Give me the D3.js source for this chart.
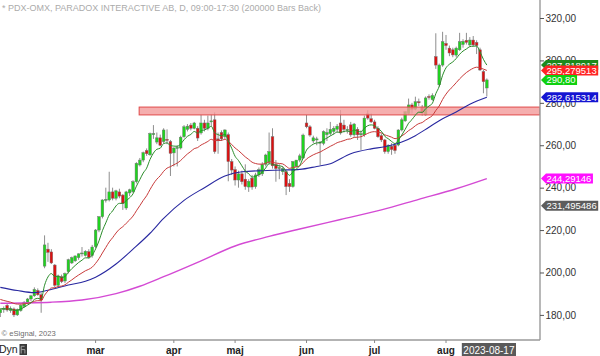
<!DOCTYPE html>
<html><head><meta charset="utf-8">
<script src="https://cdn.jsdelivr.net/npm/d3@7"></script>
<style>body{margin:0;background:#fff}svg{display:block}</style>
</head><body><svg id="c" width="600" height="356"></svg>
<script>
// ---------- DATA ----------
const title = "* PDX-OMX, PARADOX INTERACTIVE AB, D, 09:00-17:30 (200000 Bars Back)";
const holidays = ["2023-04-07","2023-04-10","2023-05-01","2023-05-18","2023-06-06","2023-06-23"];
const firstDay = [2023, 0, 20], lastDay = [2023, 7, 17];
const monthLabels = ["mar","apr","maj","jun","jul","aug"];
const monthNumbers = [3,4,5,6,7,8];
const priceTicks = [180,200,220,240,260,280,300,320];

const opens = [181,182.5,184.5,182,182.8,180,182,184,185.5,187.5,189,191.5,189.5,203,211,209.7,203.5,194,198,196,
200.4,204.5,205.5,207,209,208,209.8,208,212.2,220,226.3,234,234.2,238,235,238,236.5,230.4,237.5,238.1,
242.8,250.7,253,257.5,255.5,265,261.5,263.5,261.7,262.8,261.7,256.4,258.5,258.7,264,267.5,269.5,268,268,265.8,
270.5,268,271,272,263,266,264,265,252.3,248.5,243.6,246.5,244,240.3,244.5,240.5,246,246.5,251,252,
264,251,249,247.5,247.5,242,240.5,250,253,254,270.5,268.7,262,262.5,261,260.9,265,265.5,266.5,267.5,
270.5,269.5,267,269.6,264.9,267.5,264.9,264.9,274.8,272.5,271,268,264.5,262.5,257,259.5,260,260.1,267.2,271.5,
275,279,277,280.5,278,274.3,283,281.5,301.8,288.5,297.8,308,305.8,305,302.5,305,307.5,309.5,307.3,309.6,
308.5,305,294.7,287];
const highs = [183,184,185.5,184,183.5,183,185,186.5,188,189.5,193,192.5,190.5,217.5,214,211,204,199,199,200,
206.5,207.5,208,209,212,210.5,211,213,220.5,226.5,234.5,240,247.5,240,239,239.5,237,238.5,239.5,243.5,
252,254,257,258.5,266,269.5,266,265,268,267.5,262.5,259,260,264.5,269.5,270,270.5,271,269,274.3,
272,274,274.5,275.5,266,267,267.5,266,253.5,250,248,248,251,244,246,247,249.5,252,256,266,
268,253,251,250,248.5,244,252.5,253,256,265.5,274.3,269.5,264.5,264,262,267,268,271,269,270,
276.6,272,269,271,270.5,268.5,267,274,276.5,275,272,269,265.5,263,260.5,261,261,267.5,273,276,
282,280,282.9,282,279,283,284,284.5,312.8,298.5,313.5,312,307,306,306.5,313,310,313,311,311.5,
309.5,306,295.5,291.5];
const lows = [179,181,181.5,181,179,179.5,181.5,183.5,185,186.5,188.5,189,181,202,205,204,193,193,195,195,
199.5,204,205,206,207.5,207.5,206.5,207,211.5,219,225.5,233,233.5,234,234,235,229.5,229.5,236,237.5,
242,250,252,255,255,263,260.5,259.5,261,260.5,245.5,250,250,258,263.5,266.5,267,267.5,262,265,
266.5,267,269,256,256,262,263,243,246,241,240,241.5,239,238,239,239.5,245,245.5,250,251,
249,242.8,244,246,236.5,238,240,249.5,252,253.5,268,264,261,260,250.7,260,262,264.5,265,266,
265,266,265.5,264,264,262.5,257.8,264,272,270.5,267.5,263.5,261.5,256,256,255.5,256,259.5,266.5,271,
274.5,275,276.5,278.5,274,274,281.5,281,296,287.5,297,305,302,301.5,301.5,304.5,306,307.5,306.5,306.5,
303,295,284.5,283];
const closes = [182.5,183,182.3,183,180,182.5,184.5,186,187.5,189,192,189.5,187,213,209.5,204.5,194,198.4,195.7,199.5,
206,207,207.8,208.8,209.2,210,207.2,212,220,226.3,234.2,234.5,238,235,238.5,236,232.6,238,239,242.8,
251.5,253,256.5,256,265.5,265.5,263.5,260,267.2,262.3,256.2,258.7,259,263.8,268.7,269,268,270.5,263.4,270.5,
268,270.5,271.5,257,262.5,263,267.2,252.3,248.3,243.6,246.5,242.8,240.5,243,240.3,246,248.5,251,255.4,257,
250.3,249,249.5,249,240.5,240.5,252.3,253,255,264.8,268.7,264.8,263.5,263,261.5,266.4,266,267.5,268,269,
265.8,267.5,267.5,264.9,270,264.9,265.5,272.8,272.8,271,268,264,262.5,257,260,258,257.5,267.2,272,275.8,
279,277,280.5,280,275.2,282.3,282.5,283.5,297.8,297.8,308.8,307,303.5,302.6,305.8,308.8,309,308.5,309.6,307.3,
307,295.5,290,290.8];

// moving averages (one value per bar)
const maGreen = [182.9,182.9,182.8,182.8,182.1,182.2,182.8,183.6,184.6,185.7,
187.3,187.8,187.6,194.0,197.9,199.5,198.1,198.2,197.6,198.1,
200.1,201.8,203.3,204.7,205.8,206.9,206.9,208.2,211.1,214.9,
219.7,223.4,227.1,229.0,231.4,232.6,232.6,233.9,235.2,237.1,
240.7,243.8,246.9,249.2,253.3,256.3,258.1,258.6,260.8,261.1,
259.9,259.6,259.5,260.6,262.6,264.2,265.1,266.5,265.7,266.9,
267.2,268.0,268.9,265.9,265.0,264.5,265.2,262.0,258.6,254.8,
252.8,250.3,247.8,246.6,245.0,245.3,246.1,247.3,249.3,251.3,
251.0,250.5,250.3,249.9,247.6,245.8,247.4,248.8,250.4,254.0,
257.7,259.4,260.5,261.1,261.2,262.5,263.4,264.4,265.3,266.2,
266.1,266.5,266.7,266.3,267.2,266.6,266.3,268.0,269.2,269.6,
269.2,267.9,266.6,264.2,263.1,261.8,260.8,262.4,264.8,267.5,
270.4,272.1,274.2,275.6,275.5,277.2,278.5,279.8,284.3,287.7,
293.0,296.5,298.2,299.3,300.9,302.9,304.4,305.4,306.5,306.7,
306.8,304.0,300.5,297.8];
const maRed = [187.3,186.8,186.4,186.0,185.4,185.1,185.1,185.2,185.4,185.8,
186.4,186.7,186.7,189.3,191.3,192.7,192.8,193.4,193.6,194.2,
195.4,196.5,197.7,198.8,199.8,200.8,201.5,202.5,204.3,206.5,
209.2,211.8,214.4,216.4,218.6,220.4,221.6,223.2,224.8,226.6,
229.1,231.5,234.0,236.2,239.1,241.8,244.0,245.6,247.7,249.2,
249.9,250.8,251.6,252.8,254.4,255.9,257.1,258.4,258.9,260.1,
260.9,261.8,262.8,262.2,262.2,262.3,262.8,261.8,260.4,258.7,
257.5,256.0,254.5,253.3,252.0,251.4,251.1,251.1,251.5,252.1,
251.9,251.6,251.4,251.2,250.1,249.1,249.5,249.8,250.3,251.8,
253.5,254.6,255.5,256.2,256.8,257.7,258.6,259.5,260.3,261.2,
261.7,262.2,262.8,263.0,263.7,263.8,264.0,264.8,265.6,266.2,
266.4,266.1,265.8,264.9,264.4,263.8,263.1,263.5,264.4,265.5,
266.9,267.9,269.2,270.2,270.7,271.9,272.9,274.0,276.4,278.5,
281.6,284.1,286.1,287.7,289.5,291.3,292.9,294.3,295.4,296.3,
296.8,296.5,295.9,295.28];
// [bar index, value]
const maBlue = [[0,193],[5,191.5],[10,190.5],[14,191.6],[20,194.1],[25,195.9],[28,197.8],[34,204],[39,211],
[44,218.5],[48,225.5],[54,234],[60,240],[66,245.5],[71,247.5],[77,248],[83,248.3],[88,248.6],[93,250],
[97,251.3],[103,256],[109,258.3],[113,259.3],[118,261.5],[122,264.5],[126,268.5],[130,272.5],[134,275.7],
[138,279.3],[143,282.6]];
const maMagenta = [[0,185.5],[15,186],[24,187],[34,190],[41,193.5],[48,198],[59,205.5],[69,212.5],[79,217],
[88,220.5],[100,225],[112,229.5],[123,234.5],[134,239.5],[143,244.3]];

const zoneLow = 274.3, zoneHigh = 278, zoneStartBar = 40.8;

const labelValues = [297.818917, 295.279513, 290.80, 282.615314, 244.29146, 231.495486];
const labelTexts  = ["297,818917","295,279513","290,80","282,615314","244,29146","231,495486"];
const labelColors = ["#1c8a1c","#ff2424","#10d010","#1414d2","#ff10ff","#5c5c5c"];
const lastDateLabel = "2023-08-17";

// ---------- BUILD ----------
const dates = [];
for (let d = new Date(Date.UTC(...firstDay)); d <= new Date(Date.UTC(...lastDay)); d.setUTCDate(d.getUTCDate()+1)) {
  const dow = d.getUTCDay(), s = d.toISOString().slice(0,10);
  if (dow > 0 && dow < 6 && !holidays.includes(s)) dates.push(s);
}
const N = closes.length;
const bars = d3.range(N).map(i => ({i, date: dates[i], o: opens[i], h: highs[i], l: lows[i], c: closes[i]}));

const FONT = "'Liberation Sans', Arial, sans-serif";
const W = 600, H = 356, plotR = 540, plotB = 340;
const svg = d3.select("#c");

const x = d3.scaleLinear().domain([0, N-1]).range([0.34, 486.83]);
const y = d3.scaleLinear().domain([180, 320]).range([314.9, 18]);

svg.append("defs").append("clipPath").attr("id","clip")
  .append("rect").attr("x",0).attr("y",0).attr("width",plotR).attr("height",plotB);

const plot = svg.append("g").attr("clip-path","url(#clip)");

// candles
const cg = plot.append("g");
cg.selectAll("line.w").data(bars).join("line")
  .attr("x1", d => x(d.i)).attr("x2", d => x(d.i))
  .attr("y1", d => y(d.h)).attr("y2", d => y(d.l))
  .attr("stroke", "#8e8e8e").attr("stroke-width", 1);
cg.selectAll("rect.b").data(bars).join("rect")
  .attr("x", d => x(d.i) - 1.35).attr("width", 2.7)
  .attr("y", d => y(Math.max(d.o, d.c)))
  .attr("height", d => Math.max(0.9, Math.abs(y(d.o) - y(d.c))))
  .attr("fill", d => d.c >= d.o ? "#1ed41e" : "#dc1010")
  .attr("stroke", "#707070").attr("stroke-width", 0.45);

// resistance zone
plot.append("rect")
  .attr("x", x(zoneStartBar)).attr("width", plotR - x(zoneStartBar))
  .attr("y", y(zoneHigh)).attr("height", y(zoneLow) - y(zoneHigh))
  .attr("fill", "#f39a9a").attr("fill-opacity", 0.8)
  .attr("stroke", "#e04848").attr("stroke-width", 1);

// moving averages
const lineIdx = d3.line().x((d,i) => x(i)).y(d => y(d)).curve(d3.curveMonotoneX);
const linePts = d3.line().x(d => x(d[0])).y(d => y(d[1])).curve(d3.curveMonotoneX);
plot.append("path").attr("d", linePts(maMagenta)).attr("fill","none").attr("stroke","#d44ad4").attr("stroke-width",1.4);
plot.append("path").attr("d", linePts(maBlue)).attr("fill","none").attr("stroke","#2828a0").attr("stroke-width",1.1);
plot.append("path").attr("d", lineIdx(maRed)).attr("fill","none").attr("stroke","#c83a3a").attr("stroke-width",1);
plot.append("path").attr("d", lineIdx(maGreen)).attr("fill","none").attr("stroke","#2a8c2a").attr("stroke-width",1);

// frame
svg.append("line").attr("x1",plotR).attr("x2",plotR).attr("y1",0).attr("y2",plotB)
  .attr("stroke","#9a9a9a").attr("stroke-width",1.4);
svg.append("line").attr("x1",0).attr("x2",plotR).attr("y1",plotB).attr("y2",plotB)
  .attr("stroke","#9a9a9a").attr("stroke-width",1.4);

// right axis
const ax = svg.append("g").attr("transform",`translate(${plotR},0)`)
  .call(d3.axisRight(y).tickValues(priceTicks).tickSize(4).tickPadding(1.5)
    .tickFormat(d => d.toFixed(2).replace(".", ",")));
ax.select(".domain").remove();
ax.selectAll(".tick line").attr("stroke","#555");
ax.selectAll(".tick text").attr("fill","#333").style("font-family",FONT).style("font-size","10px");

// value labels
labelValues.forEach((v,k) => {
  const yc = y(v);
  const g = svg.append("g");
  const t = g.append("text").attr("x",546.5).attr("y",yc+3.5).text(labelTexts[k])
    .attr("fill","#fff").style("font-family",FONT).style("font-size","9.5px");
  const w = t.node().getComputedTextLength();
  const xe = Math.min(W - 1, 546.5 + w + 1.5);
  g.insert("path","text").attr("d",`M541,${yc}L546,${yc-5}H${xe}V${yc+5}H546Z`).attr("fill",labelColors[k]);
});

// month axis
const monthIdx = monthNumbers.map(m => dates.findIndex(s => +s.slice(5,7) === m));
svg.append("g").selectAll("line").data(monthIdx).join("line")
  .attr("x1", d => x(d)).attr("x2", d => x(d)).attr("y1", plotB).attr("y2", plotB+3)
  .attr("stroke","#888");
svg.append("g").selectAll("text").data(monthLabels).join("text")
  .attr("x", (d,k) => x(monthIdx[k])).attr("y", 353.5).attr("text-anchor","middle")
  .text(d => d).attr("fill","#222").style("font-family",FONT).style("font-size","10px").style("font-weight","bold");

// last date box
const ld = svg.append("g");
const ldt = ld.append("text").attr("x", x(N-1) - 23.5).attr("y", 353.5).text(lastDateLabel)
  .attr("fill","#fff").style("font-family",FONT).style("font-size","10px");
const ldw = ldt.node().getComputedTextLength();
ld.insert("rect","text").attr("x", x(N-1) - 25).attr("y",343).attr("width", ldw + 3).attr("height", 13).attr("fill","#5a5a5a");

// "Dyn" + icon
svg.append("text").attr("x",-1).attr("y",352.5).text("Dyn").attr("fill","#222")
  .style("font-family",FONT).style("font-size","10.5px");
svg.append("rect").attr("x",19.5).attr("y",344).attr("width",7.5).attr("height",11).attr("fill","#3a3a3a");
svg.append("path").attr("d","M21.2,353.5V346.3H24.6M21.2,349.6H24.9V353.5").attr("fill","none")
  .attr("stroke","#aaa").attr("stroke-width",0.9);

// title & copyright
svg.append("text").attr("x",2).attr("y",10.5).text(title).attr("fill","#ababab")
  .style("font-family",FONT).style("font-size","9px");
svg.append("text").attr("x",1.5).attr("y",335.5).text("© eSignal, 2023").attr("fill","#6c6c6c")
  .style("font-family",FONT).style("font-size","7.6px");
</script></body></html>
